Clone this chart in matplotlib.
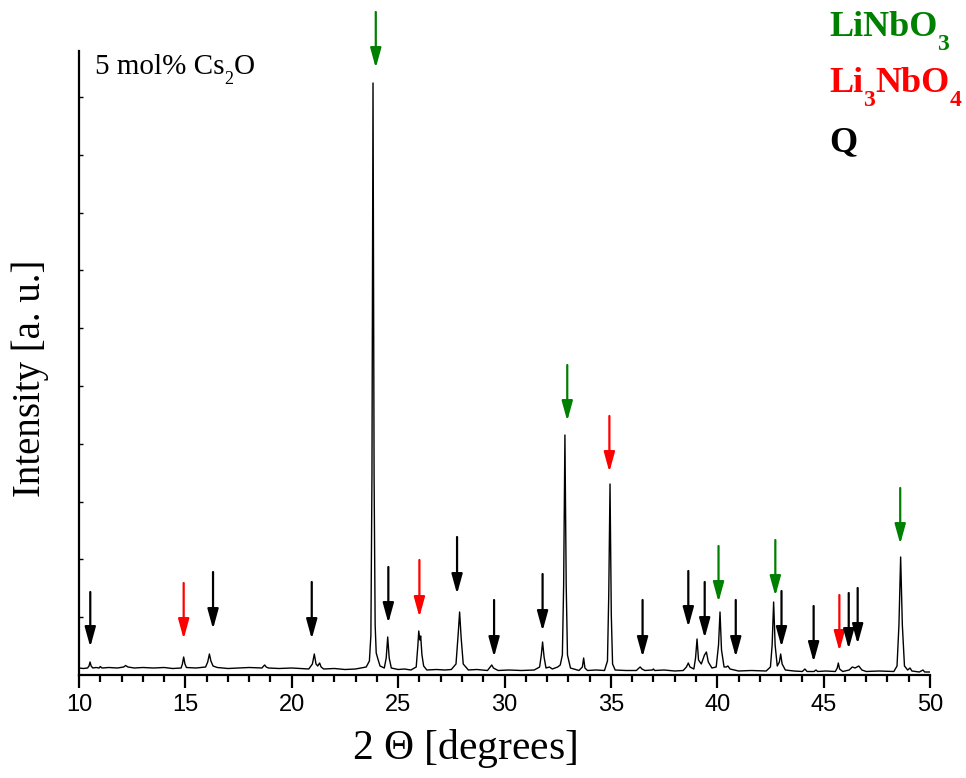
import matplotlib
matplotlib.use("Agg")
import matplotlib.pyplot as plt

plt.rcParams['mathtext.fontset'] = 'custom'
plt.rcParams['mathtext.rm'] = 'Liberation Serif'
plt.rcParams['mathtext.bf'] = 'Liberation Serif:bold'
plt.rcParams['mathtext.it'] = 'Liberation Serif:italic'

# ---- traced XRD pattern (2 theta in degrees, intensity in a.u.) ----
two_theta = [
    10.00, 10.20, 10.40, 10.47, 10.52, 10.57, 10.65, 10.80, 10.95, 11.00,
    11.08, 11.40, 11.80, 12.10, 12.19, 12.30, 12.60, 13.00, 13.50, 14.00,
    14.40, 14.80, 14.86, 14.92, 14.98, 15.05, 15.50, 15.95, 16.05, 16.13,
    16.20, 16.30, 16.50, 17.00, 17.50, 18.00, 18.60, 18.68, 18.73, 18.80,
    18.90, 19.40, 20.00, 20.40, 20.80, 20.97, 21.06, 21.14, 21.22, 21.31,
    21.38, 21.50, 22.00, 22.50, 23.00, 23.50, 23.65, 23.72, 23.77, 23.82,
    23.87, 23.92, 23.97, 24.05, 24.15, 24.35, 24.44, 24.51, 24.58, 24.68,
    25.00, 25.30, 25.60, 25.85, 25.93, 25.97, 26.02, 26.06, 26.12, 26.20,
    26.35, 26.80, 27.20, 27.50, 27.72, 27.82, 27.89, 27.96, 28.06, 28.30,
    28.70, 29.20, 29.33, 29.40, 29.48, 29.70, 30.20, 30.80, 31.40, 31.65,
    31.73, 31.79, 31.86, 31.95, 32.11, 32.25, 32.50, 32.62, 32.72, 32.78,
    32.84, 32.90, 32.96, 33.10, 33.50, 33.66, 33.72, 33.78, 33.90, 34.30,
    34.70, 34.84, 34.90, 34.96, 35.02, 35.08, 35.20, 35.70, 36.20, 36.32,
    36.38, 36.46, 36.60, 36.95, 37.00, 37.06, 37.50, 38.00, 38.40, 38.55,
    38.64, 38.72, 38.90, 38.98, 39.05, 39.12, 39.25, 39.40, 39.49, 39.58,
    39.75, 39.95, 40.06, 40.13, 40.20, 40.32, 40.42, 40.50, 40.60, 41.00,
    41.60, 42.30, 42.50, 42.58, 42.65, 42.72, 42.82, 42.92, 42.98, 43.05,
    43.20, 43.60, 44.00, 44.12, 44.22, 44.55, 44.64, 44.72, 45.10, 45.55,
    45.64, 45.69, 45.75, 45.90, 46.20, 46.35, 46.48, 46.65, 46.80, 47.00,
    47.60, 48.30, 48.45, 48.54, 48.62, 48.70, 48.80, 48.95, 49.06, 49.15,
    49.50, 49.67, 49.75, 50.00,
]
intensity = [
    7.0, 6.5, 7.0, 9.0, 13.0, 9.0, 7.0, 7.5, 7.0, 8.5,
    7.0, 7.5, 7.0, 8.0, 9.5, 8.0, 7.0, 7.5, 7.0, 7.5,
    6.5, 7.0, 11.0, 18.0, 11.0, 7.5, 7.0, 8.0, 13.0, 21.0,
    14.0, 9.0, 7.5, 6.5, 7.0, 7.5, 7.0, 9.0, 10.0, 8.0,
    7.0, 6.5, 7.0, 6.5, 6.0, 11.0, 21.0, 11.0, 9.0, 12.0,
    8.0, 6.0, 6.5, 5.5, 6.0, 8.0, 14.0, 40.0, 200.0, 592.0,
    200.0, 50.0, 22.0, 16.0, 9.0, 7.0, 17.0, 38.0, 17.0, 7.0,
    5.5, 6.0, 5.0, 8.0, 30.0, 44.0, 35.0, 39.0, 20.0, 9.0,
    5.0, 5.5, 5.0, 5.5, 11.0, 40.0, 63.0, 38.0, 11.0, 5.0,
    5.5, 4.5, 8.0, 10.0, 7.0, 4.5, 5.0, 4.5, 5.0, 8.0,
    20.0, 33.0, 18.0, 7.0, 8.0, 6.0, 8.0, 10.0, 20.0, 90.0,
    240.0, 90.0, 20.0, 7.0, 4.5, 8.0, 17.0, 7.0, 4.5, 5.0,
    4.5, 14.0, 80.0, 191.0, 60.0, 11.0, 5.0, 4.5, 4.5, 7.0,
    8.0, 6.0, 4.5, 5.0, 6.0, 4.5, 5.0, 4.0, 4.5, 8.0,
    12.0, 8.0, 6.0, 17.0, 36.0, 15.0, 11.0, 20.0, 23.0, 13.0,
    7.0, 8.0, 30.0, 63.0, 25.0, 8.0, 8.0, 9.0, 6.0, 4.0,
    4.5, 4.0, 8.0, 30.0, 73.0, 30.0, 9.0, 13.0, 21.0, 11.0,
    5.0, 4.0, 3.5, 6.0, 3.5, 3.5, 5.0, 3.5, 4.0, 3.5,
    7.0, 12.0, 6.0, 3.5, 5.0, 8.0, 7.0, 9.0, 5.0, 3.5,
    4.0, 3.5, 9.0, 50.0, 118.0, 50.0, 9.0, 5.0, 7.0, 4.0,
    3.0, 5.0, 3.0, 3.0,
]

# ---- phase-marker arrows: position, tail height, tip height, phase ----
arrow_pos = [10.53, 14.92, 16.30, 20.94, 23.95, 24.54, 26.00, 27.77, 29.51,
             31.79, 32.95, 34.93, 36.49, 38.64, 39.41, 40.06, 40.87, 42.73,
             43.02, 44.53, 45.74, 46.18, 46.60, 48.60]
arrow_tail = [83, 92, 103, 93, 663, 108, 115, 138, 75,
              101, 310, 259, 75, 104, 93, 129, 75, 135,
              84, 69, 80, 82, 87, 187]
arrow_tip = [28, 36, 46, 36, 607, 52, 58, 81, 18,
             44, 254, 203, 18, 48, 37, 73, 18, 79,
             28, 13, 24, 26, 31, 131]
arrow_phase = ['Q', 'Li3NbO4', 'Q', 'Q', 'LiNbO3', 'Q', 'Li3NbO4', 'Q', 'Q',
               'Q', 'LiNbO3', 'Li3NbO4', 'Q', 'Q', 'Q', 'LiNbO3', 'Q', 'LiNbO3',
               'Q', 'Q', 'Li3NbO4', 'Q', 'Q', 'LiNbO3']

phase_names = ['LiNbO3', 'Li3NbO4', 'Q']
# each label as (text, is_subscript) pieces
phase_pieces = [
    [('LiNbO', False), ('3', True)],
    [('Li', False), ('3', True), ('NbO', False), ('4', True)],
    [('Q', False)],
]
phase_colors = {'LiNbO3': '#008000', 'Li3NbO4': '#ff0000', 'Q': '#000000'}
sample_pieces = [('5 mol% Cs', False), ('2', True), ('O', False)]

x_ticks = [10, 15, 20, 25, 30, 35, 40, 45, 50]

W, H = 966, 778
fig = plt.figure(figsize=(W / 100, H / 100), dpi=100)
ax = fig.add_axes([79 / W, 1 - 675 / H, (930 - 79) / W, (675 - 51) / H])

ax.plot(two_theta, intensity, color='black', lw=1.0)

for xp, yt, yh, ph in zip(arrow_pos, arrow_tail, arrow_tip, arrow_phase):
    ax.annotate('', xy=(xp, yh), xytext=(xp, yt), annotation_clip=False,
                arrowprops=dict(arrowstyle='-|>,head_length=0.8,head_width=0.22',
                                mutation_scale=15, color=phase_colors[ph],
                                lw=1.6, shrinkA=0, shrinkB=0))

ax.set_xlim(10, 50)
ax.set_ylim(0, 624)
ax.set_xticks(x_ticks)
ax.set_xticks(range(10, 51), minor=True)
ax.set_yticks([57.8 * k for k in range(1, 11)])
ax.set_yticklabels([])

for s in ['top', 'right']:
    ax.spines[s].set_visible(False)
for s in ['left', 'bottom']:
    ax.spines[s].set_linewidth(1.6)

ax.tick_params(axis='x', which='major', direction='out', length=9, width=1.6,
               labelsize=17, pad=5)
ax.tick_params(axis='x', which='minor', direction='out', length=5, width=1.6)
ax.tick_params(axis='y', which='major', direction='in', length=3, width=1.0)
for lab in ax.get_xticklabels():
    lab.set_fontfamily('Liberation Sans')

ax.set_xlabel(r'2 $\Theta$ [degrees]', fontsize=30, family='Liberation Serif')
ax.xaxis.set_label_coords((465 - 79) / 851, -0.084)
ax.set_ylabel('Intensity [a. u.]', fontsize=28, family='Liberation Serif')
ax.yaxis.set_label_coords(-0.0355, (675 - 378) / 624)

renderer = fig.canvas.get_renderer()


def rich_text(x_px, base_px, pieces, size, sub_size, sub_drop, color, weight):
    x = x_px
    for txt, is_sub in pieces:
        fs = sub_size if is_sub else size
        yb = base_px + (sub_drop if is_sub else 0)
        t = fig.text(x / W, 1 - yb / H, txt, fontsize=fs, color=color,
                     family='Liberation Serif', weight=weight,
                     ha='left', va='baseline')
        x += t.get_window_extent(renderer).width


rich_text(95, 74, sample_pieces, 21, 13, 10, 'black', 'normal')

legend_base = [36, 92, 151]
for name, pieces, yb in zip(phase_names, phase_pieces, legend_base):
    rich_text(829, yb, pieces, 26, 17, 14, phase_colors[name], 'bold')

fig.savefig('out.png', dpi=100)
